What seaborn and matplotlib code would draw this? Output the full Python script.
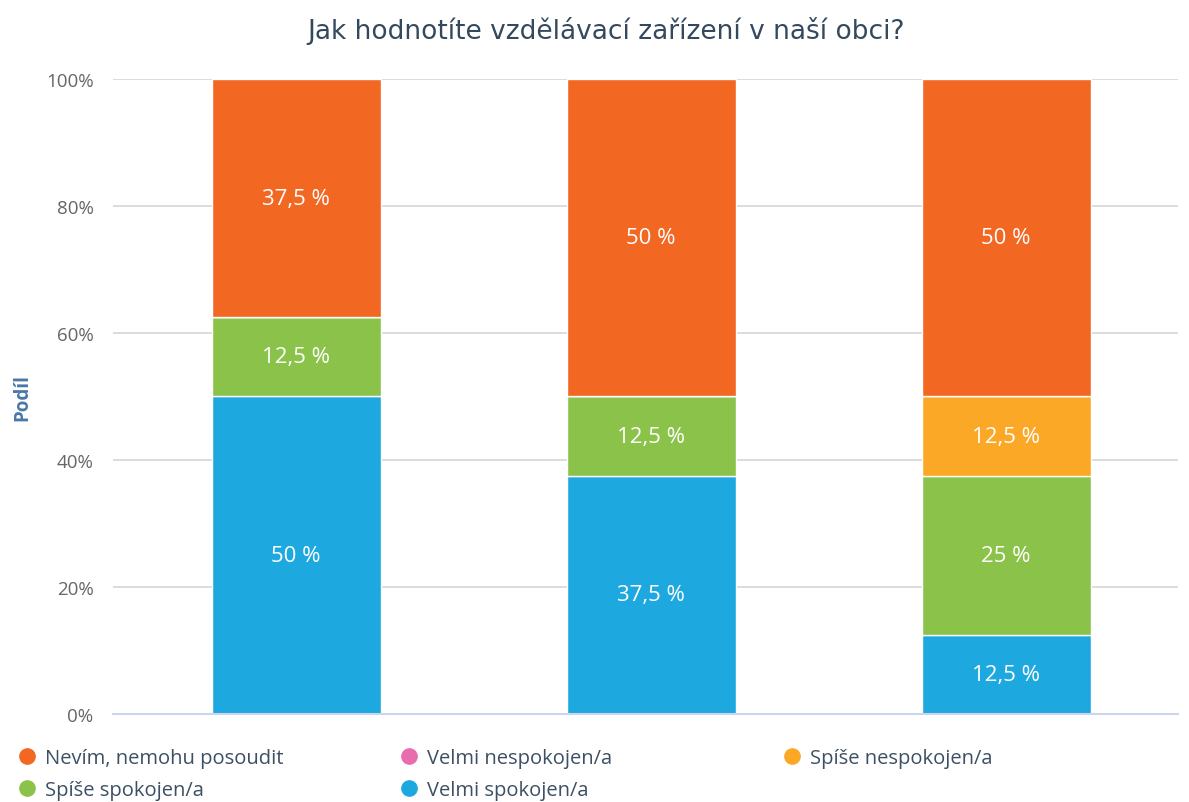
import matplotlib
matplotlib.use("Agg")
import matplotlib.pyplot as plt
from matplotlib.lines import Line2D
import seaborn as sns
import numpy as np

# data
categories = ["A", "B", "C"]
series = ["Velmi spokojen/a", "Spíše spokojen/a", "Spíše nespokojen/a",
          "Velmi nespokojen/a", "Nevím, nemohu posoudit"]
velmi_spokojen = [50, 37.5, 12.5]
spise_spokojen = [12.5, 12.5, 25]
spise_nespokojen = [0, 0, 12.5]
velmi_nespokojen = [0, 0, 0]
nevim = [37.5, 50, 50]
values = [velmi_spokojen, spise_spokojen, spise_nespokojen, velmi_nespokojen, nevim]
colors = ["#1EA8E0", "#8BC34A", "#FBA826", "#E86CAE", "#F26722"]
yticks = [0, 20, 40, 60, 80, 100]

sns.set_style("white")
plt.rcParams["font.family"] = ["Open Sans", "DejaVu Sans"]

fig = plt.figure(figsize=(11.89, 8.03), dpi=100)
ax = fig.add_axes([0.095, 0.1096, 0.896, 0.7908])

bottom = np.zeros(len(categories))
for name, vals, c in zip(series, values, colors):
    sns.barplot(x=categories, y=vals, bottom=bottom, color=c, width=0.476,
                ax=ax, saturation=1, linewidth=1, edgecolor="white")
    for i, v in enumerate(vals):
        if v > 0:
            txt = ("%g" % v).replace(".", ",") + " %"
            ax.text(i, bottom[i] + v / 2, txt, ha="center", va="center",
                    color="white", fontsize=16)
    bottom = bottom + np.array(vals)

ax.set_xlim(-0.516, 2.485)
ax.set_ylim(0, 100)
ax.set_yticks(yticks)
ax.set_yticklabels([f"{t}%" for t in yticks], color="#666666", fontsize=13.5)
ax.set_xticks(range(len(categories)))
ax.set_xticklabels([""] * len(categories))
ax.tick_params(axis="x", length=9, color="#CCD6EB", width=1)
ax.tick_params(axis="y", length=0, pad=14)
ax.yaxis.grid(True, color="#D5D5D5", linewidth=1.2)
ax.set_axisbelow(True)
for s in ["top", "right", "left"]:
    ax.spines[s].set_visible(False)
ax.spines["bottom"].set_color("#CCD6EB")
ax.spines["bottom"].set_linewidth(1.5)
ax.set_xlabel("")
ax.set_ylabel("Podíl", color="#4A77A8", fontsize=13.5, fontweight="bold", labelpad=10)

fig.text(0.51, 0.962, "Jak hodnotíte vzdělávací zařízení v naší obci?",
         ha="center", va="center", fontsize=19, color="#34495E",
         family=["DejaVu Sans"])

# legend, row by row in three columns
leg_cols = [[4, 1], [3, 0], [2]]
col_x = [0.0055, 0.327, 0.649]
for cx, idxs in zip(col_x, leg_cols):
    handles = [Line2D([], [], marker="o", linestyle="", markersize=11,
                      markerfacecolor=colors[i], markeredgecolor=colors[i])
               for i in idxs]
    fig.legend(handles, [series[i] for i in idxs], loc="upper left",
               bbox_to_anchor=(cx, 0.077), frameon=False, fontsize=14.5,
               labelcolor="#3D4F63", handletextpad=0.3, labelspacing=0.6,
               borderaxespad=0, handlelength=1.2)

fig.savefig("out.png", dpi=100)
